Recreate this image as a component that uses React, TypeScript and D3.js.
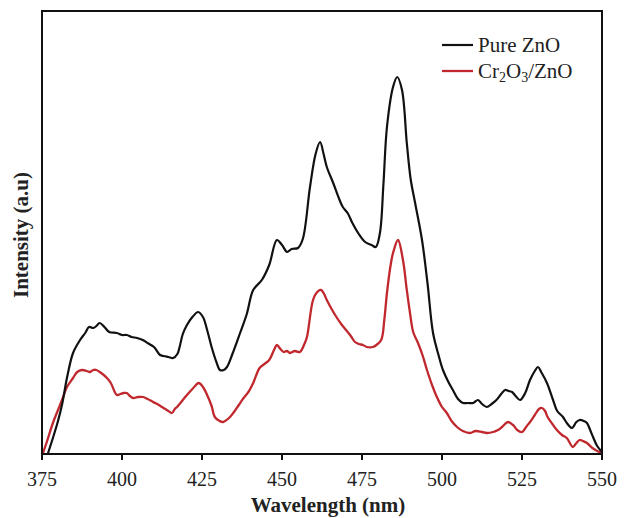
import React from "react";
import * as d3 from "d3";

// wavelength (nm), intensity (a.u.)
const pureZnO: [number, number][] = [
  [376.8,0],[378.5,17],[380,33],[381.3,50],[382.8,76],[384.7,101],[386.9,114],[388.5,121],[389.7,127],[391,126],[392,128],[393,131],[394.5,127],[396,122],[398.4,121],[400,119],[401.5,119],[403,117],[404.7,116],[406.5,114],[408,111],[410,107],[411.9,99],[413,98],[414.5,97],[416,96],[417.3,100],[418,107],[419,120],[420.3,129],[422,137],[423.8,142],[425.3,137],[426.6,124],[428,107],[429.5,92],[430.6,84],[431.8,84],[432.8,87],[434.5,100],[436.9,121],[439,140],[441,164],[443.7,174],[446,189],[448.4,214],[450,209],[451.6,202],[453,205],[455,206],[456.5,215],[458.75,267],[460.5,300],[461.9,312],[463,300],[464,287],[466,271],[468,254],[469,247],[470.5,241],[472,231],[474,220],[476,212],[478,209],[479.3,207],[480.6,221],[481.7,270],[482.8,327],[484.7,367],[486,377],[487.5,364],[489,311],[490.2,275],[491.6,251],[493.75,214],[495.5,170],[497.2,121],[499,98],[500.3,84],[502,72],[503.4,64],[505,55],[506.6,51],[508,51],[509.7,51],[511.25,54],[512.5,50],[514,47],[515.5,50],[517,54],[518.5,60],[519.7,64],[520.8,63],[521.9,62],[523,58],[524.4,54],[526,61],[527.5,74],[529,83],[530,87],[531,82],[532.8,71],[534.7,54],[536,43],[537.8,37],[539,31],[540.6,26],[542,32],[543,34],[544.3,33],[545.3,31],[546.3,24],[547.2,17],[548.5,8],[550,2]
];

const cr2o3ZnO: [number, number][] = [
  [375.2,0],[376.5,12],[378.4,31],[380,44],[381.6,57],[382.8,67],[384.7,76],[386,82],[387.5,84],[389,83],[390,82],[391,84],[392,84],[393.5,81],[395.3,76],[396.5,71],[398.4,59],[399.5,60],[400.5,61],[401.5,61],[402.5,58],[403.5,56],[405,57],[406.6,57],[408,55],[409.7,52],[411,50],[413,46],[414.5,43],[415.6,41],[416.5,45],[417.2,47],[418.5,52],[420.3,59],[422,65],[424,71],[425.3,67],[426.6,59],[428,48],[429,37],[430.5,33],[431.6,32],[433.75,37],[435,42],[436.5,49],[438,56],[439.5,62],[441,71],[443,86],[444.5,90],[446,94],[447.5,104],[448.4,109],[449.5,105],[450.5,102],[451.5,103],[452.5,101],[454,103],[455.6,102],[457,110],[457.8,117],[459.7,154],[461,162],[462.2,164],[463,161],[464,154],[465.5,145],[467,137],[468.5,130],[470,124],[471.5,118],[472.8,112],[474,110],[475.3,109],[476.5,107],[478.4,107],[479.5,109],[481,114],[482,135],[482.8,161],[484,190],[484.7,201],[486.25,214],[487.8,194],[489,164],[490,141],[491,122],[492.5,111],[494,98],[495.3,84],[497,68],[498.4,57],[500,47],[501.5,41],[503,33],[504.7,27],[506.5,23],[508.75,21],[510.5,23],[512.5,22],[514,21],[516,22],[517.5,24],[518.75,27],[520.6,32],[522.2,29],[523.5,24],[525,22],[526.5,28],[527.5,32],[529,39],[530.3,45],[531.25,46],[532.2,43],[533,37],[534.5,30],[535.9,24],[537.5,19],[539,16],[540.9,7],[542,11],[543,14],[544,13],[545.3,11],[547,6],[548.5,3],[550,1]
];

const xTicks = [375, 400, 425, 450, 475, 500, 525, 550];
const seriesNames = ["Pure ZnO", "Cr2O3/ZnO"];
const seriesColors = ["#111111", "#c0282e"];

export default function App() {
  const W = 626, H = 518;
  const left = 42, right = 602, top = 11, bottom = 454;
  const x = d3.scaleLinear().domain([375, 550]).range([left, right]);
  const y = d3.scaleLinear().domain([0, 443]).range([bottom, top]);
  const line = d3
    .line<[number, number]>()
    .x((d) => x(d[0]))
    .y((d) => y(d[1]))
    .curve(d3.curveCatmullRom.alpha(0.5));
  const font = "'Liberation Serif', 'Times New Roman', serif";

  return (
    <svg
      width={W}
      height={H}
      style={{ position: "absolute", left: 0, top: 0, background: "#fff" }}
      fontFamily={font}
    >
      <defs>
        <clipPath id="plotclip">
          <rect x={left} y={top} width={right - left} height={bottom - top} />
        </clipPath>
      </defs>
      <g clipPath="url(#plotclip)">
        <path d={line(cr2o3ZnO) || ""} fill="none" stroke={seriesColors[1]} strokeWidth={2.3} strokeLinejoin="round" />
        <path d={line(pureZnO) || ""} fill="none" stroke={seriesColors[0]} strokeWidth={2.2} strokeLinejoin="round" />
      </g>
      <rect x={left} y={top} width={right - left} height={bottom - top} fill="none" stroke="#111" strokeWidth={2} />
      {xTicks.map((t) => (
        <g key={t}>
          <line x1={x(t)} x2={x(t)} y1={bottom} y2={bottom + 6} stroke="#111" strokeWidth={2} />
          <text x={x(t)} y={486} textAnchor="middle" fontSize={20} fill="#222">
            {t}
          </text>
        </g>
      ))}
      <text x={(left + right) / 2 + 6} y={512} textAnchor="middle" fontSize={21} fontWeight="bold" fill="#222">
        Wavelength (nm)
      </text>
      <text
        transform={`translate(28,235) rotate(-90)`}
        textAnchor="middle"
        fontSize={21}
        fontWeight="bold"
        fill="#222"
      >
        Intensity (a.u)
      </text>
      {/* legend */}
      <line x1={442} x2={473} y1={45} y2={45} stroke={seriesColors[0]} strokeWidth={2.2} />
      <text x={478} y={52} fontSize={21} fill="#222">{seriesNames[0]}</text>
      <line x1={442} x2={473} y1={71} y2={71} stroke={seriesColors[1]} strokeWidth={2.3} />
      <text x={478} y={78} fontSize={21} fill="#222">
        Cr<tspan fontSize={14} dy={4}>2</tspan>
        <tspan dy={-4}>O</tspan>
        <tspan fontSize={14} dy={4}>3</tspan>
        <tspan dy={-4}>/ZnO</tspan>
      </text>
    </svg>
  );
}
